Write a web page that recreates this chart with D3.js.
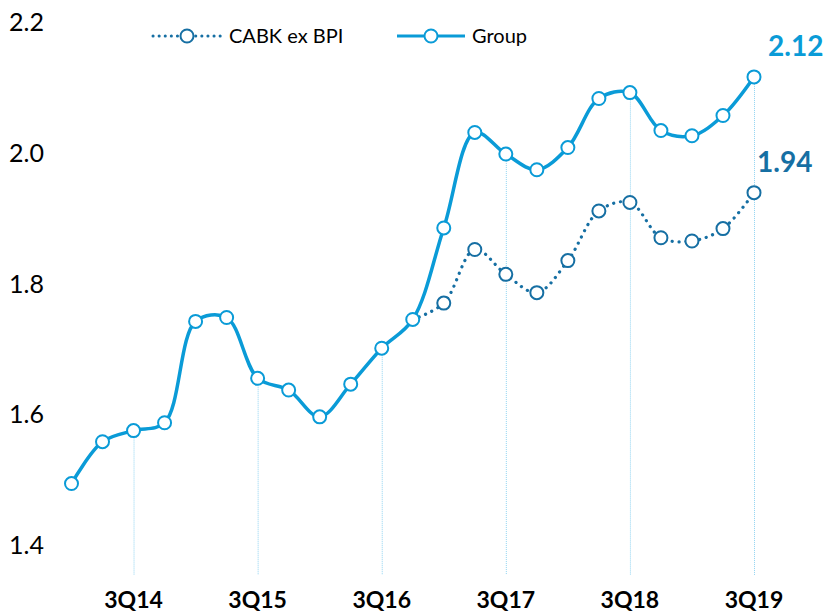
<!DOCTYPE html>
<html>
<head>
<meta charset="utf-8">
<script src="https://cdn.jsdelivr.net/npm/d3@7"></script>
<style>
  body { margin: 0; background: #fff; }
  svg { display: block; font-family: Lato, "Open Sans", sans-serif; }
</style>
</head>
<body>
<div id="chart"></div>
<script>
var width = 828
var height = 613

// quarters 1Q14 .. 3Q19
var quarters = ["1Q14","2Q14","3Q14","4Q14","1Q15","2Q15","3Q15","4Q15","1Q16","2Q16","3Q16","4Q16",
                "1Q17","2Q17","3Q17","4Q17","1Q18","2Q18","3Q18","4Q18","1Q19","2Q19","3Q19"];
var group = [1.494,1.558,1.575,1.587,1.742,1.748,1.655,1.637,1.596,1.646,1.701,1.745,
             1.885,2.031,1.998,1.974,2.008,2.083,2.092,2.034,2.026,2.057,2.116];
// CABK ex BPI starts at 4Q16
var cabkQuarters = ["4Q16","1Q17","2Q17","3Q17","4Q17","1Q18","2Q18","3Q18","4Q18","1Q19","2Q19","3Q19"];
var cabk = [1.745,1.770,1.852,1.814,1.786,1.835,1.911,1.924,1.870,1.865,1.884,1.939];
var yTicks = [1.4,1.6,1.8,2.0,2.2];
var xLabels = ["3Q14","3Q15","3Q16","3Q17","3Q18","3Q19"];

var groupColor = "#0a9bd7";
var cabkColor = "#166fa3";

var svg = d3.select("#chart").append("svg")
    .attr("width", width)
    .attr("height", height);

var x = d3.scalePoint()
    .domain(quarters)
    .range([71.5, 754]);

var y = d3.scaleLinear()
    .domain([1.4, 2.2])
    .range([545, 22]);

// y labels
svg.selectAll(".ylab")
    .data(yTicks)
    .enter().append("text")
    .attr("class", "ylab")
    .attr("x", 9)
    .attr("y", function(d) { return y(d); })
    .attr("dy", "0.36em")
    .attr("font-size", "25px")
    .attr("fill", "#000")
    .text(function(d) { return d.toFixed(1); });

// dotted drop lines at 3Q
svg.selectAll(".drop")
    .data(xLabels)
    .enter().append("line")
    .attr("class", "drop")
    .attr("x1", function(d) { return x(d) + 0.5; })
    .attr("x2", function(d) { return x(d) + 0.5; })
    .attr("y1", function(d) { return y(group[quarters.indexOf(d)]) + 7; })
    .attr("y2", 575)
    .attr("stroke", "#8fd3f1")
    .attr("stroke-width", 1)
    .attr("stroke-dasharray", "1 1");

// x labels
svg.selectAll(".xlab")
    .data(xLabels)
    .enter().append("text")
    .attr("class", "xlab")
    .attr("x", function(d) { return x(d); })
    .attr("y", 608)
    .attr("text-anchor", "middle")
    .attr("font-size", "23px")
    .attr("font-weight", "bold")
    .attr("fill", "#000")
    .text(function(d) { return d; });

var line = d3.line()
    .x(function(d) { return x(d[0]); })
    .y(function(d) { return y(d[1]); })
    .curve(d3.curveCatmullRom.alpha(0.5));

var cabkData = cabkQuarters.map(function(q, i) { return [q, cabk[i]]; });
var groupData = quarters.map(function(q, i) { return [q, group[i]]; });

svg.append("path")
    .datum(cabkData)
    .attr("d", line)
    .attr("fill", "none")
    .attr("stroke", cabkColor)
    .attr("stroke-width", 3.2)
    .attr("stroke-linecap", "round")
    .attr("stroke-dasharray", "0.1 6.8");

svg.append("path")
    .datum(groupData)
    .attr("d", line)
    .attr("fill", "none")
    .attr("stroke", groupColor)
    .attr("stroke-width", 3.5);

svg.selectAll(".cabkpt")
    .data(cabkData.slice(1))
    .enter().append("circle")
    .attr("class", "cabkpt")
    .attr("cx", function(d) { return x(d[0]); })
    .attr("cy", function(d) { return y(d[1]); })
    .attr("r", 6.5)
    .attr("fill", "#fff")
    .attr("stroke", cabkColor)
    .attr("stroke-width", 2);

svg.selectAll(".grppt")
    .data(groupData)
    .enter().append("circle")
    .attr("class", "grppt")
    .attr("cx", function(d) { return x(d[0]); })
    .attr("cy", function(d) { return y(d[1]); })
    .attr("r", 6.5)
    .attr("fill", "#fff")
    .attr("stroke", groupColor)
    .attr("stroke-width", 2);

// end value labels
svg.append("text")
    .text("2.12")
    .attr("x", 768)
    .attr("y", 56)
    .attr("font-size", "28px")
    .attr("font-weight", "bold")
    .attr("fill", groupColor);

svg.append("text")
    .text("1.94")
    .attr("x", 757)
    .attr("y", 172)
    .attr("font-size", "28px")
    .attr("font-weight", "bold")
    .attr("fill", cabkColor);

// legend
var legY = 36;
svg.append("line")
    .attr("x1", 153).attr("x2", 221)
    .attr("y1", legY).attr("y2", legY)
    .attr("stroke", cabkColor)
    .attr("stroke-width", 3)
    .attr("stroke-linecap", "round")
    .attr("stroke-dasharray", "0.1 6");
svg.append("circle")
    .attr("cx", 187).attr("cy", legY).attr("r", 6.5)
    .attr("fill", "#fff").attr("stroke", cabkColor).attr("stroke-width", 2);
svg.append("text")
    .text("CABK ex BPI")
    .attr("x", 229).attr("y", legY).attr("dy", "0.36em")
    .attr("font-size", "20px").attr("fill", "#000");

svg.append("line")
    .attr("x1", 397).attr("x2", 465)
    .attr("y1", legY).attr("y2", legY)
    .attr("stroke", groupColor)
    .attr("stroke-width", 3);
svg.append("circle")
    .attr("cx", 431).attr("cy", legY).attr("r", 6.5)
    .attr("fill", "#fff").attr("stroke", groupColor).attr("stroke-width", 2);
svg.append("text")
    .text("Group")
    .attr("x", 472).attr("y", legY).attr("dy", "0.36em")
    .attr("font-size", "20px").attr("fill", "#000");
</script>
</body>
</html>
